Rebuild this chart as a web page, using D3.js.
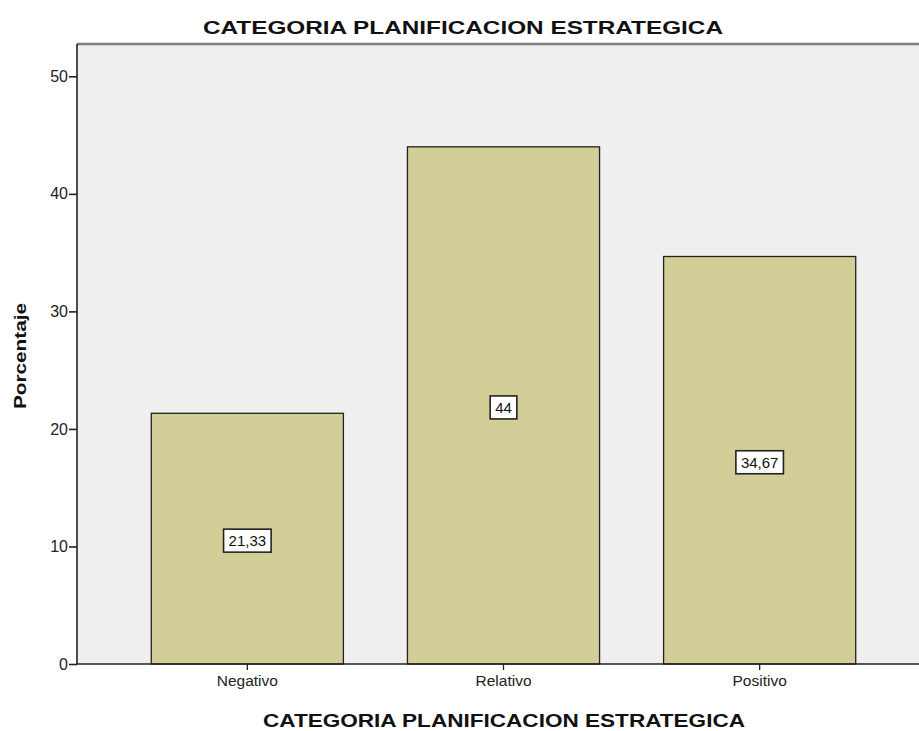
<!DOCTYPE html>
<head>
<meta charset="utf-8">
<title>CATEGORIA PLANIFICACION ESTRATEGICA</title>
<script src="https://d3js.org/d3.v7.min.js"></script>
<style>
  body { margin: 0; background: #fff; }
  text { font-family: "Liberation Sans", Arial, sans-serif; }
</style>
</head>
<body>
<div id="chart"></div>
<script>

  var categories = ["Negativo", "Relativo", "Positivo"];
  var percents = [21.33, 44, 34.67];
  var valueLabels = ["21,33", "44", "34,67"];
  var yTicks = [0, 10, 20, 30, 40, 50];
  var chartTitle = "CATEGORIA PLANIFICACION ESTRATEGICA";
  var xTitle = "CATEGORIA PLANIFICACION ESTRATEGICA";
  var yTitle = "Porcentaje";

  var W = 919, H = 731;
  var plotLeft = 77, plotTop = 44, plotBottom = 664, plotRight = 930;

  var svg = d3.select("#chart")
    .append("svg")
      .attr("width", W)
      .attr("height", H);

  var x = d3.scaleBand()
    .domain(categories)
    .range([plotLeft, plotRight])
    .paddingInner(0.25)
    .paddingOuter(0.29);

  var y = d3.scaleLinear()
    .domain([0, 52.75])
    .range([plotBottom, plotTop]);

  // plot background
  svg.append("rect")
    .attr("x", plotLeft)
    .attr("y", plotTop)
    .attr("width", plotRight - plotLeft)
    .attr("height", plotBottom - plotTop)
    .style("fill", "#efefef");

  // top frame line
  svg.append("line")
    .attr("x1", plotLeft).attr("x2", plotRight)
    .attr("y1", plotTop).attr("y2", plotTop)
    .style("stroke", "#7d7d7d")
    .style("stroke-width", 2.5);

  // bars
  svg.append("g")
    .selectAll("rect")
    .data(percents)
    .enter()
    .append("rect")
      .attr("x", function(d, i) { return x(categories[i]); })
      .attr("y", function(d) { return y(d); })
      .attr("width", x.bandwidth())
      .attr("height", function(d) { return y(0) - y(d); })
      .style("fill", "#d3ce98")
      .style("stroke", "#222")
      .style("stroke-width", 1.3);

  // value labels in boxes
  var lab = svg.append("g")
    .selectAll("g")
    .data(percents)
    .enter()
    .append("g")
      .attr("transform", function(d, i) {
        return "translate(" + (x(categories[i]) + x.bandwidth() / 2) + "," + ((y(0) + y(d)) / 2 + 2) + ")";
      });

  lab.append("text")
    .attr("text-anchor", "middle")
    .attr("dy", "0.36em")
    .style("font-size", "15px")
    .style("fill", "#111")
    .text(function(d, i) { return valueLabels[i]; })
    .each(function() {
      var b = this.getBBox();
      d3.select(this.parentNode).insert("rect", "text")
        .attr("x", b.x - 5)
        .attr("y", -11.5)
        .attr("width", b.width + 10)
        .attr("height", 23)
        .style("fill", "#fff")
        .style("stroke", "#222")
        .style("stroke-width", 1.6);
    });

  // y axis
  var yAxis = svg.append("g")
    .attr("transform", "translate(" + plotLeft + ",0)")
    .call(d3.axisLeft(y).tickValues(yTicks).tickSize(8).tickSizeOuter(0).tickPadding(1));
  yAxis.select(".domain").attr("d", "M0," + plotTop + "V" + plotBottom).style("stroke", "#222").style("stroke-width", 1.6);
  yAxis.selectAll(".tick line").style("stroke", "#222").style("stroke-width", 1.6);
  yAxis.selectAll("text").style("font-size", "16px").style("fill", "#222");

  // x axis
  var xAxis = svg.append("g")
    .attr("transform", "translate(0," + plotBottom + ")")
    .call(d3.axisBottom(x).tickSize(6).tickSizeOuter(0).tickPadding(5));
  xAxis.select(".domain").attr("d", "M" + plotLeft + ",0H" + plotRight).style("stroke", "#222").style("stroke-width", 1.6);
  xAxis.selectAll(".tick line").style("stroke", "#222").style("stroke-width", 1.3);
  xAxis.selectAll("text").style("font-size", "15.5px").style("fill", "#222");

  // titles (stretched horizontally like the original)
  svg.append("text")
    .attr("x", 463)
    .attr("y", 34)
    .attr("text-anchor", "middle")
    .attr("textLength", 520)
    .attr("lengthAdjust", "spacingAndGlyphs")
    .style("font-size", "18px")
    .style("font-weight", "bold")
    .style("fill", "#111")
    .text(chartTitle);

  svg.append("text")
    .attr("x", 504)
    .attr("y", 727)
    .attr("text-anchor", "middle")
    .attr("textLength", 482)
    .attr("lengthAdjust", "spacingAndGlyphs")
    .style("font-size", "18px")
    .style("font-weight", "bold")
    .style("fill", "#111")
    .text(xTitle);

  svg.append("text")
    .attr("transform", "translate(26,356) rotate(-90)")
    .attr("text-anchor", "middle")
    .attr("textLength", 106)
    .attr("lengthAdjust", "spacingAndGlyphs")
    .style("font-size", "17px")
    .style("font-weight", "bold")
    .style("fill", "#111")
    .text(yTitle);

</script>
</body>
